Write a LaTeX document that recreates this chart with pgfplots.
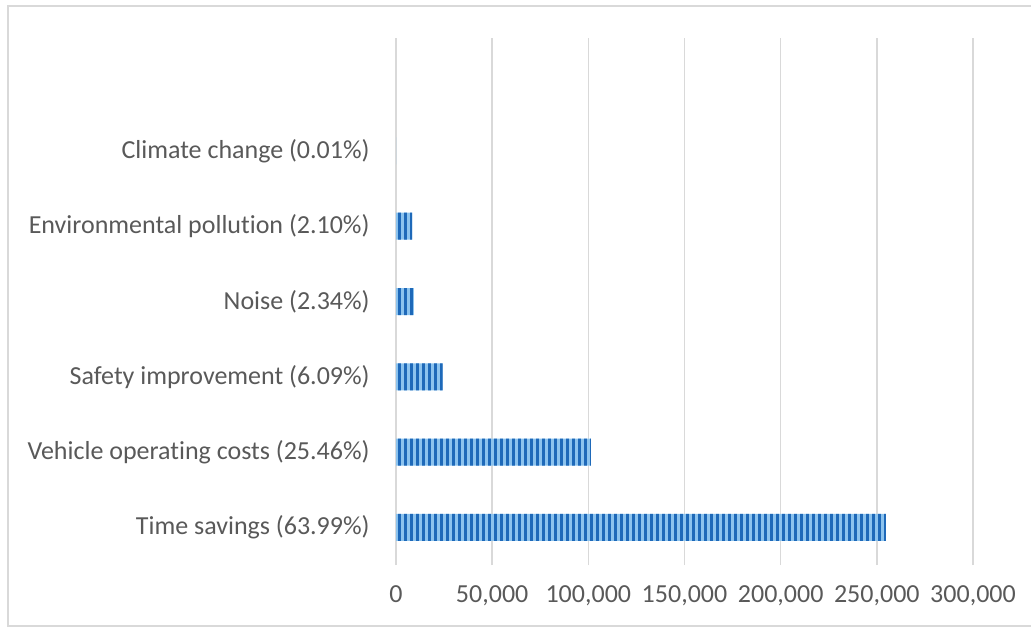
\documentclass[border=0pt]{standalone}
\usepackage{pgfplots}
\pgfplotsset{compat=1.18}
\usetikzlibrary{patterns.meta}
\usepackage{fontspec}
\setmainfont{Carlito}[Ligatures=NoCommon]
\definecolor{txt}{RGB}{89,89,89}
\definecolor{gridc}{RGB}{217,217,217}
\definecolor{framec}{RGB}{217,217,217}
\definecolor{barlight}{RGB}{140,195,238}
\definecolor{bardark}{RGB}{30,105,185}
\tikzdeclarepattern{
  name=vstripes,
  type=uncolored,
  bottom left={(0pt,0pt)},
  top right={(2.8pt,30pt)},
  tile size={(2.8pt,30pt)},
  code={\fill (0pt,0pt) rectangle (1.5pt,30pt);}
}
\begin{document}
\begin{tikzpicture}
\useasboundingbox (0pt,0pt) rectangle (515.5pt,-314pt);
\draw[framec, line width=1pt] (4pt,-3pt) rectangle (516pt,-313pt);
\begin{axis}[
  at={(198pt,-282.5pt)}, anchor=south west,
  scale only axis,
  width=288.5pt, height=263.5pt,
  xbar, bar width=13.5pt,
  xmin=0, xmax=300000,
  ymin=-0.5, ymax=6.5,
  xtick={0,50000,100000,150000,200000,250000,300000},
  xticklabels={0,{50,000},{100,000},{150,000},{200,000},{250,000},{300,000}},
  ytick={0,1,2,3,4,5},
  yticklabels={Time savings (63.99\%),Vehicle operating costs (25.46\%),Safety improvement (6.09\%),Noise (2.34\%),Environmental pollution (2.10\%),Climate change (0.01\%)},
  xmajorgrids, grid style={gridc, line width=0.8pt},
  axis line style={draw=none},
  major tick length=0pt,
  tick label style={font=\fontsize{13pt}{15pt}\selectfont, text=txt},
  yticklabel style={inner sep=0pt, xshift=-13pt},
  xticklabel style={inner sep=0pt, yshift=-10pt},
]
\addplot[draw=none, fill=barlight, postaction={pattern=vstripes, pattern color=bardark}]
coordinates {(254700,0) (101300,1) (24200,2) (9300,3) (8350,4) (40,5)};
\end{axis}
\end{tikzpicture}
\end{document}
